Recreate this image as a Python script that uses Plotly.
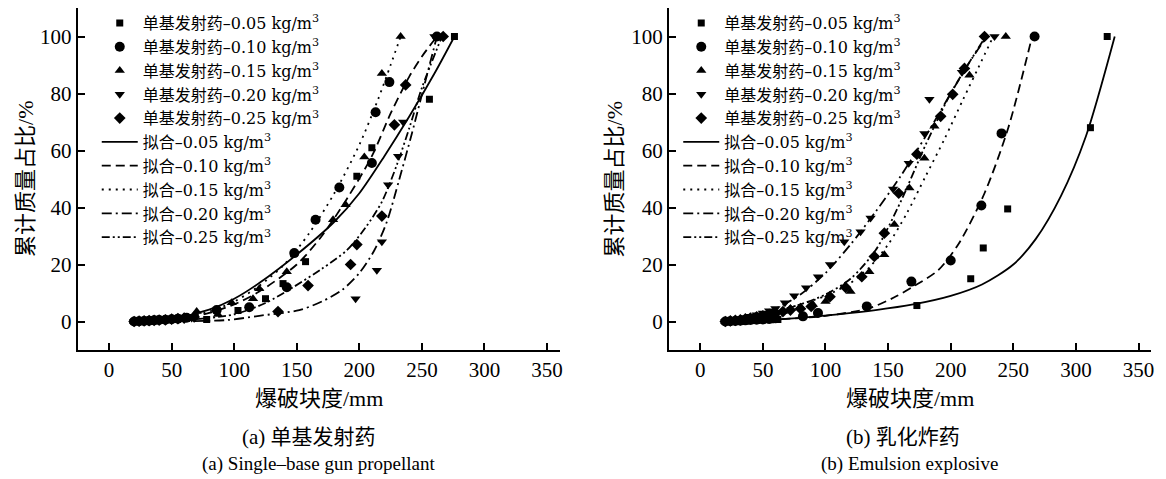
import plotly.graph_objects as go

W, H = 1166, 479

# ---------------- Panel (a) single-base gun propellant ----------------
a_sq_x = [20, 24, 28, 32, 36, 40, 45, 50, 56, 63, 78, 103, 125, 139, 157, 198, 210, 256, 276]
a_sq_y = [0.0, 0.1, 0.2, 0.3, 0.4, 0.5, 0.7, 0.9, 1.1, 1.4, 0.7, 3.9, 8.0, 13.3, 21.0, 51.0, 61.0, 78.0, 100.0]
a_ci_x = [20, 24, 28, 32, 36, 40, 45, 50, 55, 62, 86, 112, 142, 148, 165, 184, 210, 213, 224, 262]
a_ci_y = [0.0, 0.1, 0.2, 0.3, 0.4, 0.5, 0.6, 0.8, 1.0, 1.3, 4.0, 5.0, 12.0, 24.0, 35.7, 47.0, 55.6, 73.4, 84.0, 100.0]
a_tu_x = [20, 24, 28, 32, 36, 40, 45, 50, 55, 60, 70, 87, 98, 115, 120, 142, 179, 189, 204, 218, 233]
a_tu_y = [0.0, 0.1, 0.2, 0.3, 0.4, 0.6, 0.8, 1.0, 1.2, 1.5, 3.5, 2.5, 6.6, 8.0, 11.5, 17.5, 35.7, 41.0, 57.7, 87.0, 100.0]
a_td_x = [20, 24, 28, 32, 36, 40, 45, 50, 55, 60, 66, 197, 214, 218, 223, 231, 235, 260]
a_td_y = [0.0, 0.1, 0.1, 0.2, 0.3, 0.4, 0.5, 0.6, 0.8, 1.0, 1.2, 8.0, 18.0, 28.0, 48.0, 58.0, 70.0, 100.0]
a_di_x = [20, 24, 28, 32, 36, 40, 45, 50, 55, 60, 68, 135, 159, 193, 198, 218, 228, 237, 267]
a_di_y = [0.0, 0.1, 0.2, 0.3, 0.4, 0.5, 0.6, 0.8, 1.0, 1.2, 1.6, 3.5, 12.6, 20.0, 27.0, 37.0, 69.0, 83.0, 100.0]

a_f05_x = [20, 50, 80, 100, 120, 150, 180, 200, 220, 240, 260, 276]
a_f05_y = [0.0, 1.0, 4.2, 8.0, 13.5, 23.5, 35.0, 45.0, 58.0, 72.0, 87.0, 100.0]
a_f10_x = [20, 50, 80, 100, 120, 150, 170, 190, 210, 225, 240, 250, 262]
a_f10_y = [0.0, 0.6, 3.0, 6.0, 10.5, 20.0, 30.0, 43.0, 58.0, 73.0, 86.0, 93.0, 100.0]
a_f15_x = [20, 50, 80, 100, 120, 140, 160, 180, 200, 215, 225, 233]
a_f15_y = [0.0, 0.8, 3.5, 7.0, 12.5, 20.0, 31.0, 45.0, 62.0, 78.0, 90.0, 100.0]
a_f20_x = [20, 60, 94, 120, 152, 170, 186, 200, 212, 222, 232, 242, 252, 262]
a_f20_y = [0.0, 0.1, 0.5, 2.0, 4.0, 7.0, 11.0, 17.0, 25.0, 35.0, 50.0, 66.0, 83.0, 100.0]
a_f25_x = [20, 60, 100, 125, 147, 170, 190, 205, 218, 230, 240, 250, 266]
a_f25_y = [0.0, 0.5, 2.5, 6.5, 12.0, 18.5, 25.0, 33.0, 42.0, 55.0, 68.0, 82.0, 100.0]

# ---------------- Panel (b) emulsion explosive ----------------
b_sq_x = [20, 24, 28, 32, 36, 40, 45, 50, 56, 62, 173, 216, 226, 245.5, 311.6, 325]
b_sq_y = [0.0, 0.0, 0.1, 0.1, 0.2, 0.3, 0.4, 0.5, 0.6, 0.7, 5.6, 15.0, 25.8, 39.5, 68.0, 100.0]
b_ci_x = [20, 24, 28, 32, 36, 40, 45, 50, 55, 60, 82, 94, 133, 168.6, 200, 224.5, 240.6, 267]
b_ci_y = [0.0, 0.1, 0.2, 0.3, 0.4, 0.5, 0.6, 0.7, 0.9, 1.1, 1.8, 3.0, 5.3, 14.0, 21.4, 40.7, 66.0, 100.0]
b_tu_x = [20, 24, 28, 32, 36, 40, 45, 50, 55, 60, 66, 72, 80, 90, 100, 120, 135, 147, 155, 167, 179, 187, 215, 244]
b_tu_y = [0.0, 0.2, 0.4, 0.6, 0.9, 1.2, 1.5, 2.0, 2.5, 3.0, 3.5, 4.5, 5.0, 6.0, 7.0, 10.5, 17.5, 23.4, 34.0, 46.8, 57.3, 68.5, 86.4, 100.0]
b_td_x = [20, 24, 28, 32, 36, 40, 45, 50, 55, 60, 67.6, 75, 84.5, 94, 103.6, 115, 128, 136, 154, 166.5, 179, 183, 209, 235]
b_td_y = [0.0, 0.3, 0.6, 1.0, 1.4, 1.8, 2.4, 3.0, 3.8, 4.6, 6.6, 9.0, 11.8, 15.7, 20.0, 28.0, 31.5, 36.3, 46.5, 55.5, 66.0, 78.0, 87.5, 100.0]
b_di_x = [20, 24, 28, 32, 36, 40, 45, 50, 55, 60, 66, 72, 80, 88.6, 103.6, 116, 129, 139, 147, 158.5, 173, 192, 201.6, 211, 227]
b_di_y = [0.0, 0.2, 0.4, 0.6, 0.9, 1.2, 1.6, 2.0, 2.5, 3.0, 3.5, 4.0, 4.5, 5.3, 8.7, 12.0, 15.7, 22.8, 31.0, 45.0, 58.7, 72.0, 79.7, 88.8, 100.0]

b_f05_x = [20, 50, 80, 110, 140, 170, 200, 225, 250, 268, 288, 308, 331]
b_f05_y = [0.0, 0.4, 1.3, 2.5, 4.0, 6.0, 9.0, 13.0, 20.0, 29.0, 44.0, 65.0, 100.0]
b_f10_x = [20, 50, 80, 100, 134, 155, 171, 190, 206, 227, 246, 265]
b_f10_y = [0.0, 0.5, 1.2, 2.0, 4.5, 8.5, 12.5, 18.0, 27.0, 45.0, 68.0, 100.0]
b_f15_x = [20, 40, 60, 80, 100, 120, 135, 150, 165, 180, 195, 210, 222, 234]
b_f15_y = [0.0, 1.5, 3.5, 6.0, 9.0, 13.5, 19.0, 27.0, 38.0, 51.0, 64.0, 78.0, 89.0, 100.0]
b_f20_x = [20, 40, 60, 80, 100, 120, 140, 160, 180, 200, 215, 229]
b_f20_y = [0.0, 1.5, 4.5, 9.5, 17.0, 27.0, 38.5, 51.0, 65.0, 80.0, 91.0, 100.0]
b_f25_x = [20, 40, 60, 80, 100, 120, 140, 160, 180, 200, 215, 228]
b_f25_y = [0.0, 1.5, 3.5, 6.0, 9.5, 15.0, 25.0, 42.0, 62.0, 80.0, 91.0, 100.0]

densities = ["0.05", "0.10", "0.15", "0.20", "0.25"]
symbols = ["square", "circle", "triangle-up", "triangle-down", "diamond"]
msizes = [7, 10, 9, 9, 9]
dashes = ["solid", "9px,5px", "2px,5px", "10px,4px,2px,4px", "8px,3px,2px,3px,2px,3px"]

x_ticks = [0, 50, 100, 150, 200, 250, 300, 350]
y_ticks = [0, 20, 40, 60, 80, 100]

FONT = "Liberation Serif, Noto Sans CJK SC, serif"
LEG_FONT = "DejaVu Serif, Noto Sans CJK SC, serif"

panels = [
    dict(xa="x", ya="y", lg="legend",
         pts=[(a_sq_x, a_sq_y), (a_ci_x, a_ci_y), (a_tu_x, a_tu_y), (a_td_x, a_td_y), (a_di_x, a_di_y)],
         fits=[(a_f05_x, a_f05_y), (a_f10_x, a_f10_y), (a_f15_x, a_f15_y), (a_f20_x, a_f20_y), (a_f25_x, a_f25_y)]),
    dict(xa="x2", ya="y2", lg="legend2",
         pts=[(b_sq_x, b_sq_y), (b_ci_x, b_ci_y), (b_tu_x, b_tu_y), (b_td_x, b_td_y), (b_di_x, b_di_y)],
         fits=[(b_f05_x, b_f05_y), (b_f10_x, b_f10_y), (b_f15_x, b_f15_y), (b_f20_x, b_f20_y), (b_f25_x, b_f25_y)]),
]

fig = go.Figure()
for p in panels:
    for i, (xs, ys) in enumerate(p["pts"]):
        fig.add_trace(go.Scatter(
            x=xs, y=ys, mode="markers", xaxis=p["xa"], yaxis=p["ya"], legend=p["lg"],
            name="单基发射药–" + densities[i] + " kg/m<sup>3</sup>",
            marker=dict(symbol=symbols[i], size=msizes[i], color="black"),
        ))
    for i, (xs, ys) in enumerate(p["fits"]):
        fig.add_trace(go.Scatter(
            x=xs, y=ys, mode="lines", xaxis=p["xa"], yaxis=p["ya"], legend=p["lg"],
            name="拟合–" + densities[i] + " kg/m<sup>3</sup>",
            line=dict(color="black", width=1.8, dash=dashes[i], shape="spline", smoothing=0.8),
        ))


def px_x(v):
    return v / W


def px_y(v):
    return 1 - v / H


axis_common = dict(
    showline=True, linecolor="black", linewidth=2, ticks="inside", ticklen=7,
    tickwidth=1.5, tickcolor="black", showgrid=False, zeroline=False,
    tickfont=dict(family=FONT, size=21, color="black"), mirror=False,
)

ydom = [px_y(350), px_y(8)]
leg_common = dict(xanchor="left", y=px_y(6), yanchor="top", bgcolor="rgba(0,0,0,0)",
                  font=dict(family=LEG_FONT, size=16, color="black"), itemwidth=36, tracegroupgap=0)
fig.update_layout(
    width=W, height=H, margin=dict(l=0, r=0, t=0, b=0),
    paper_bgcolor="white", plot_bgcolor="white",
    xaxis=dict(domain=[px_x(78), px_x(561)], range=[-25, 360], tickvals=x_ticks, anchor="y", **axis_common),
    yaxis=dict(domain=ydom, range=[-10, 110], tickvals=y_ticks, anchor="x", **axis_common),
    xaxis2=dict(domain=[px_x(670.7), px_x(1154)], range=[-25, 360], tickvals=x_ticks, anchor="y2", **axis_common),
    yaxis2=dict(domain=ydom, range=[-10, 110], tickvals=y_ticks, anchor="x2", **axis_common),
    legend=dict(x=px_x(97), **leg_common),
    legend2=dict(x=px_x(680), **leg_common),
    showlegend=True,
)

ann_font = dict(family=FONT, size=22, color="black")
cap_cn_font = dict(family=FONT, size=21, color="black")
cap_font = dict(family=FONT, size=19, color="black")
annotations = []
for cx_axis, cx_title in [((78 + 561) / 2, 25), ((670.7 + 1154) / 2, 616)]:
    annotations.append(dict(x=px_x(cx_title), y=px_y(179), text="累计质量占比/%", textangle=-90, font=ann_font))
    annotations.append(dict(x=px_x(cx_axis), y=px_y(398), text="爆破块度/mm", font=ann_font))
annotations += [
    dict(x=px_x(310), y=px_y(437), text="(a) 单基发射药", font=cap_cn_font),
    dict(x=px_x(319), y=px_y(464), text="(a) Single–base gun propellant", font=cap_font),
    dict(x=px_x(905), y=px_y(437), text="(b) 乳化炸药", font=cap_cn_font),
    dict(x=px_x(912), y=px_y(464), text="(b) Emulsion explosive", font=cap_font),
]
for a in annotations:
    a.update(xref="paper", yref="paper", showarrow=False, xanchor="center", yanchor="middle")
fig.update_layout(annotations=annotations)

fig.write_html("out.html", config={"displayModeBar": False},
               post_script="document.body.style.margin='0';")
